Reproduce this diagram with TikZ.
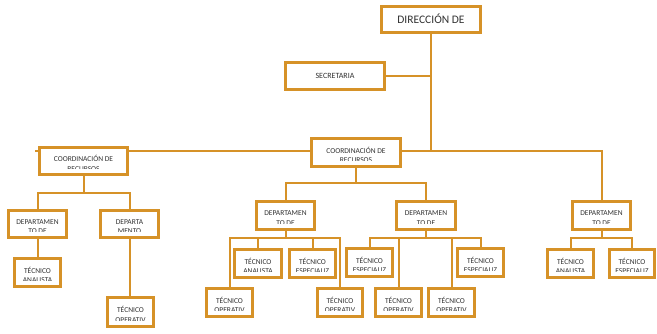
\documentclass[tikz,border=0pt]{standalone}
\usepackage{fontspec}
\setmainfont{Carlito}
\usetikzlibrary{calc,backgrounds}
\definecolor{org}{RGB}{214,146,40}
\definecolor{txt}{RGB}{50,50,50}
\tikzset{
  orgbox/.style={draw=org, line width=2.6pt, fill=white, inner sep=0pt, outer sep=0pt},
  link/.style={draw=org, line width=2pt},
  lbl/.style={text=txt, align=center, inner sep=0pt, yshift=-2.5pt, font=\fontsize{7.5}{9.6}\selectfont},
}
\newcommand\obox[7][]{%
  \node[orgbox, minimum width={(#5-#3-2.6)*1pt}, minimum height={(#6-#4-2.6)*1pt},
    path picture={\clip ([yshift=6.5pt]path picture bounding box.south west) rectangle (path picture bounding box.north east);
      \node[lbl,#1] at (path picture bounding box.center) {#7};}]
    (#2) at ({(#3+#5)/2},{(#4+#6)/2}) {};}
\newcommand\treelinks[3]{%
  \coordinate (bus) at (0,#2);
  \foreach \c in {#3} {\draw[link] (#1.south) -- (#1.south |- bus) -| (\c.north);}}
\begin{document}
\begin{tikzpicture}[x=1pt,y=-1pt]
\useasboundingbox (0,0) rectangle (657,334);
\obox[font=\fontsize{11.5}{13}\selectfont, yshift=3.5pt]{dir}{380}{5}{482}{34}{DIRECCIÓN DE}
\obox[font=\fontsize{8}{9}\selectfont, yshift=2.5pt]{sec}{284}{61}{386}{91}{SECRETARIA}
\obox{cL}{38}{146}{129}{176}{COORDINACIÓN DE\\RECURSOS}
\obox{cC}{310}{137}{402}{168}{COORDINACIÓN DE\\RECURSOS}
\obox{dL1}{7}{209}{68}{239}{DEPARTAMEN\\TO DE}
\obox{dL2}{99}{209}{160}{239}{DEPARTA\\MENTO}
\obox{tL1}{13}{257}{62}{288}{TÉCNICO\\ANALISTA}
\obox{tL2}{106}{296}{155}{328}{TÉCNICO\\OPERATIV}
\obox{dC1}{255}{200}{316}{231}{DEPARTAMEN\\TO DE}
\obox{dC2}{395}{200}{457}{231}{DEPARTAMEN\\TO DE}
\obox{tA}{205}{287}{254}{318}{TÉCNICO\\OPERATIV}
\obox{tB}{233}{248}{283}{279}{TÉCNICO\\ANALISTA}
\obox{tC}{288}{248}{337}{279}{TÉCNICO\\ESPECIALIZ}
\obox{tD}{316}{287}{364}{318}{TÉCNICO\\OPERATIV}
\obox{tE}{345}{247}{394}{278}{TÉCNICO\\ESPECIALIZ}
\obox{tF}{374}{287}{423}{318}{TÉCNICO\\OPERATIV}
\obox{tG}{427}{287}{476}{318}{TÉCNICO\\OPERATIV}
\obox{tH}{456}{247}{505}{278}{TÉCNICO\\ESPECIALIZ}
\obox{dR}{571}{200}{632}{231}{DEPARTAMEN\\TO DE}
\obox{tR1}{546}{248}{595}{279}{TÉCNICO\\ANALISTA}
\obox{tR2}{608}{248}{656}{279}{TÉCNICO\\ESPECIALIZ}
\begin{pgfonlayer}{background}
  \coordinate (stub) at (35,151);
  \draw[link] (stub) -| (dR.north);
  \draw[link] (dir.south) -- (dir.south |- stub);
  \draw[link] (sec.east) -- (sec.east -| dir.south);
  \treelinks{cL}{193}{dL1,dL2}
  \treelinks{cC}{183}{dC1,dC2}
  \treelinks{dC1}{238}{tA,tB,tC,tD}
  \treelinks{dC2}{238}{tE,tF,tG,tH}
  \treelinks{dR}{238}{tR1,tR2}
  \draw[link] (dL1.south) -- (dL1.south |- tL1.north);
  \draw[link] (dL2.south) -- (dL2.south |- tL2.north);
\end{pgfonlayer}
\end{tikzpicture}
\end{document}
